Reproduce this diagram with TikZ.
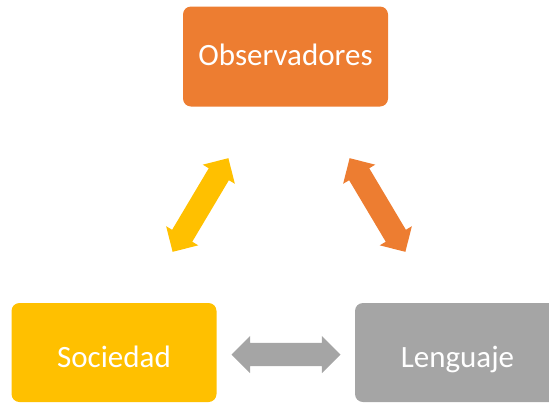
\documentclass[tikz,border=0pt]{standalone}
\usepackage{fontspec}
\setmainfont{Carlito}
\usetikzlibrary{shapes.arrows}
\definecolor{obscolor}{HTML}{ED7D31}
\definecolor{soccolor}{HTML}{FFC000}
\definecolor{lencolor}{HTML}{A5A5A5}

\begin{document}
\begin{tikzpicture}[x=1pt, y=-1pt,
                    box/.style={rounded corners=8pt, inner sep=0pt,
                                minimum width=205pt, minimum height=100pt,
                                text=white, font=\fontsize{31}{37}\selectfont,
                                text depth=0pt},
                    blockarrow/.style={double arrow, inner sep=0pt,
                                text height=23pt, text depth=0pt,
                                double arrow head extend=7pt,
                                minimum height=109pt, midway, sloped}
                   ]
\useasboundingbox (0,0) rectangle (549,402);

\node [box, fill=obscolor, text height=17pt] (obs) at (285.5,56.5) {Observadores};
\node [box, fill=soccolor, minimum height=99pt, text height=29pt] (soc) at (114,352.5) {Sociedad};
\node [box, fill=lencolor, minimum height=99pt, text height=29pt] (len) at (457.5,352.5) {Lenguaje};

% ends of the block arrows
\coordinate (soc-obs-a) at (172.7,251.7);
\coordinate (soc-obs-b) at (228.3,158.3);
\coordinate (obs-len-a) at (349.7,158.3);
\coordinate (obs-len-b) at (405.3,251.7);
\coordinate (soc-len-a) at (232,354.5);
\coordinate (soc-len-b) at (340,354.5);

\path (soc-obs-a) -- (soc-obs-b) node [blockarrow, fill=soccolor] (soc-obs) {};
\path (obs-len-a) -- (obs-len-b) node [blockarrow, fill=obscolor] (obs-len) {};
\path (soc-len-a) -- (soc-len-b) node [blockarrow, fill=lencolor] (soc-len) {};
\end{tikzpicture}
\end{document}
